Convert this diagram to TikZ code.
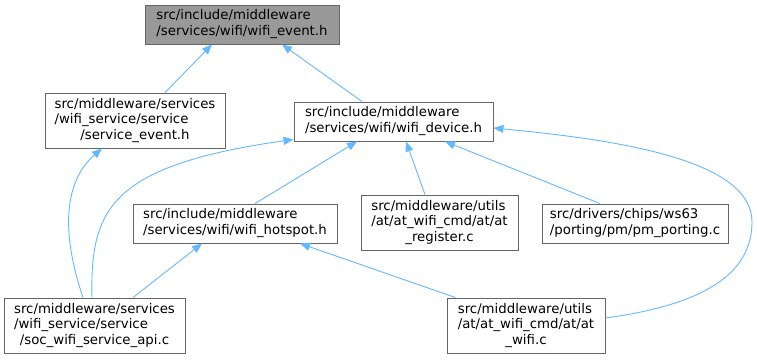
\documentclass[tikz,border=0pt]{standalone}
\usepackage{fontspec}
\setmainfont{DejaVu Sans}
\usetikzlibrary{arrows.meta}
\definecolor{edgeblue}{HTML}{63B8FF}
\definecolor{boxborder}{HTML}{666666}
\definecolor{topfill}{HTML}{999999}
\newcommand{\twolines}[2]{\begin{tabular}{@{}l@{}}#1\\#2\end{tabular}}
\newcommand{\threelines}[3]{\begin{tabular}{@{}l@{}}#1\\#2\\\multicolumn{1}{@{}c@{}}{#3}\end{tabular}}
\begin{document}
\begin{tikzpicture}[x=1pt,y=-1pt,
  font=\fontsize{13.3}{15.5}\selectfont,
  filebox/.style={draw=boxborder, fill=white, line width=0.9pt, inner sep=0pt},
  topbox/.style={filebox, fill=topfill},
  dep/.style={draw=edgeblue, line width=0.9pt, -{Triangle[length=10pt,width=8pt]}}]
\useasboundingbox (0,0) rectangle (757,359);

\node[topbox, minimum width=194pt, minimum height=39pt] (A) at (242,24.5)
  {\twolines{src/include/middleware}{/services/wifi/wifi\_event.h}};
\node[filebox, minimum width=180pt, minimum height=55pt] (B) at (135,120.5)
  {\threelines{src/middleware/services}{/wifi\_service/service}{/service\_event.h}};
\node[filebox, minimum width=199pt, minimum height=39pt] (C) at (393.5,121.5)
  {\twolines{src/include/middleware}{/services/wifi/wifi\_device.h}};
\node[filebox, minimum width=204pt, minimum height=39pt] (D) at (235,223.5)
  {\twolines{src/include/middleware}{/services/wifi/wifi\_hotspot.h}};
\node[filebox, minimum width=157pt, minimum height=55pt] (E) at (439.5,222.5)
  {\threelines{src/middleware/utils}{/at/at\_wifi\_cmd/at/at}{\_register.c}};
\node[filebox, minimum width=186pt, minimum height=39pt] (F) at (635,223.5)
  {\twolines{src/drivers/chips/ws63}{/porting/pm/pm\_porting.c}};
\node[filebox, minimum width=181pt, minimum height=55pt] (G) at (94.5,325.5)
  {\threelines{src/middleware/services}{/wifi\_service/service}{/soc\_wifi\_service\_api.c}};
\node[filebox, minimum width=158pt, minimum height=55pt] (H) at (526,325.5)
  {\threelines{src/middleware/utils}{/at/at\_wifi\_cmd/at/at}{\_wifi.c}};

% edges (arrowhead at the included file)
\draw[dep] ([xshift=30pt]B.north) -- ([xshift=-30pt]A.south);
\draw[dep] ([xshift=-31.5pt]C.north) -- ([xshift=40pt]A.south);
\draw[dep] ([xshift=-11.5pt]G.north) .. controls +(-23,-68) and +(-37,32) .. ([xshift=-33pt]B.south);
\draw[dep] ([xshift=-2.5pt]G.north) .. controls +(-2,-88) and +(-184,26) .. ([yshift=2pt]C.south west);
\draw[dep] ([xshift=20pt]D.north) -- ([xshift=-36.5pt]C.south);
\draw[dep] ([xshift=-14.5pt]E.north) -- ([xshift=12.5pt]C.south);
\draw[dep] ([xshift=-35pt]F.north) -- ([xshift=51.5pt]C.south);
\draw[dep] ([yshift=7.5pt]H.east) .. controls +(96,-13) and +(0,53) .. (752,222)
  .. controls +(0,-62) and +(126,12) .. ([yshift=-6.5pt]C.east);
\draw[dep] ([xshift=38.5pt]G.north) -- ([xshift=-33pt]D.south);
\draw[dep] ([xshift=-70.5pt]H.north) -- ([xshift=65pt]D.south);
\end{tikzpicture}
\end{document}
